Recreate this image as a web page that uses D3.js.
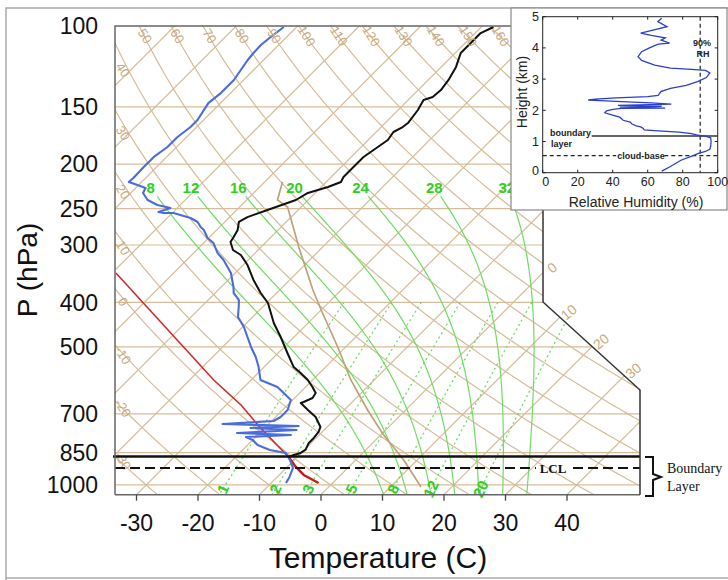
<!DOCTYPE html>
<html><head><meta charset="utf-8">
<script src="https://cdn.jsdelivr.net/npm/d3@7"></script>
<style>body{margin:0;background:#fff}svg{display:block}</style>
</head><body>
<svg id="c" width="728" height="580"></svg>
<script>
// ---------------- data ----------------
const pressureTicks = [100,150,200,250,300,400,500,700,850,1000];
const isobarLevels = [150,200,250,300,400,500,700,850,1000];
const temperatureTicks = [-30,-20,-10,0,10,20,30,40];
const isothermValues = [-140,-130,-120,-110,-100,-90,-80,-70,-60,-50,-40,-30,-20,-10,0,10,20,30,40];
const thetaValues = [-40,-30,-20,-10,0,10,20,30,40,50,60,70,80,90,100,110,120,130,140,150,160,170,180];
const thetaTopLabels = [50,60,70,80,90,100,110,120,130,140,150,160];
const thetaLeftLabels = [40,30,20,10,0,-10,-20,-30];
const isothermRightLabels = [0,10,20,30];
const moistThetaW = [8,12,16,20,24,28,32];
const mixingRatios = [1,2,3,5,8,12,20];

// temperature sounding (hPa, degC)
const tempP = [100.5,103.6,108.9,114.5,122.8,131.1,137.9,142.8,145,152.4,162.7,166,170.2,177.2,186.3,192.9,202.9,213.3,218.7,224.3,231.1,239.4,251.7,260.8,267.3,278.2,288.2,295.6,307.6,315.5,331.7,357.5,381.7,401.3,443.6,476,515.8,553.4,570.2,590.5,611.7,630.4,646.4,659.5,662.8,686.5,711.1,747.5,766.4,789.8,809.9,838.8,851.6,860.1,869];
const tempT = [-48.0,-49.1,-49.1,-49.1,-47.6,-46.7,-46.3,-46.5,-47.5,-46.8,-46.3,-46.5,-47.2,-46.8,-47.5,-48.0,-48.0,-48.0,-47.6,-48.9,-51.2,-52.0,-55.0,-57.1,-57.7,-56.6,-56.1,-55.8,-54.1,-52.0,-49.3,-45.9,-42.6,-39.8,-35.6,-32.2,-28.5,-25.2,-23.1,-20.8,-18.9,-17.4,-17.1,-17.9,-18.2,-15.9,-13.5,-11.1,-10.6,-10.4,-10.4,-9.8,-10.1,-10.9,-11.4];

// dewpoint sounding (hPa, degC)
const dewP = [100.5,105.7,110,114.5,118.6,124.7,131.1,140,147.2,160.3,166,174.5,183.5,192.9,202.9,214.4,218.7,222,225.4,231.1,239.4,245.5,249.2,254.2,255.5,255.5,262,267.3,274.1,278.2,289.6,297.1,312.4,323.5,345.2,370.4,381.7,395.4,409.5,430.5,452.7,476,500.4,526.2,553.4,590.5,611.7,630.4,652.9,686.5,711.1,725.5,736.5,743.9,751.4,759,770.3,778.1,786,798,818.2,838.8,851.6,882,918.2,960.7,990];
const dewT = [-82.1,-82.6,-82.9,-82.8,-82.6,-82.1,-81.6,-81.6,-82.0,-81.0,-81.0,-81.5,-81.5,-82.1,-82.1,-82.0,-82.1,-80.2,-78.4,-78.0,-76.1,-73.7,-71.1,-72.4,-71.4,-69.8,-66.2,-64.4,-63.1,-62.1,-60.2,-58.4,-56.1,-54.0,-50.7,-48.0,-47.0,-45.0,-43.9,-42.4,-39.8,-37.6,-35.4,-33.0,-30.9,-28.5,-24.6,-22.6,-20.3,-19.2,-19.2,-19.7,-27.5,-14.8,-22.3,-14.5,-23.7,-14.6,-21.6,-20.0,-18.4,-15.6,-12.5,-10.7,-8.9,-8.0,-7.6];

// red reference line (hPa, degC)
const refP = [345.2,590.5,669.4,751,869,913.6,951,990];
const refT = [-69.4,-36.1,-27.6,-20.7,-11.4,-8.6,-6.0,-2.3];

// tan parcel curve (hPa, degC)
const parcelP = [218.7,239.4,248,303,376,422,500.4,590.5,686.5,774.3,882,1010];
const parcelT = [-57.1,-55.0,-52.2,-43.9,-34.6,-29.3,-21.3,-13.8,-6.2,0.2,7.8,15.0];

const boundaryLayerP = 867;
const lclP = 918;

// inset: relative humidity profile
const rhHeight = [0.05,0.2,0.4,0.55,0.62,0.68,0.75,0.85,1.0,1.12,1.17,1.2,1.25,1.3,1.34,1.37,1.42,1.47,1.5,1.56,1.62,1.68,1.78,1.85,1.92,1.98,2.03,2.06,2.07,2.1,2.13,2.16,2.2,2.24,2.28,2.31,2.33,2.36,2.4,2.44,2.48,2.6,2.7,2.8,2.92,3.05,3.2,3.28,3.31,3.35,3.45,3.6,3.72,3.88,4.0,4.12,4.15,4.25,4.32,4.4,4.47,4.57,4.68,4.84,4.95];
const rhValue = [68,73,79,86,89,93,95.5,96,96.2,96,93,89,85,78,66,58,57.5,56,53.5,51,50,46,44,39.5,35.5,36.5,40,45,70,44,68,43,73.5,62,45,33,26,30,42,60,66,67.5,73,82,88.5,93.5,95.5,93,85,73,64,56.5,54.5,56.5,61,66,72.5,67.7,70,62,56,63,71,65.8,68];
const rhTicks = [0,20,40,60,80,100];
const heightTicks = [0,1,2,3,4,5];
const rhThreshold = 90;
const blHeight = 1.18;
const cloudBaseHeight = 0.55;

// ---------------- helpers ----------------
const svg = d3.select('#c');
const TAN = '#d6bd99', TANTXT = '#c9aa80', GREEN = '#6fdc62', GREENTXT = '#2fd020';
const yP = d3.scaleLog().domain([100,1050]).range([26,494.7]);
const xT = d3.scaleLinear().domain([-30,40]).range([136.5,567]);
const yBot = yP(1050);
const X = (T,p) => xT(T) + (yBot - yP(p));
const lineTP = d3.line().x(d=>X(d[1],d[0])).y(d=>yP(d[0]));
const K = 273.15;
const dryT = (th,p) => (th+K)*Math.pow(p/1000,0.2857) - K;
const es = T => 6.112*Math.exp(17.67*T/(T+243.5));
function moistDT(Tk,p){
  const Lv=2.501e6,Rd=287.04,cp=1005.7,eps=0.622;
  const e=es(Tk-K); const rs=eps*e/(p-e);
  return (Rd*Tk+Lv*rs)/(p*(cp+Lv*Lv*rs*eps/(Rd*Tk*Tk)));
}
function moistLine(tw,pTop,pBot){
  const up=[],down=[];
  let T=tw+K,p=1000;
  while(p>pTop){const h=-1;const k1=moistDT(T,p);const k2=moistDT(T+h*k1,p+h);T+=h*(k1+k2)/2;p+=h;up.push([p,T-K]);}
  T=tw+K;p=1000;
  while(p<pBot){const h=1;const k1=moistDT(T,p);const k2=moistDT(T+h*k1,p+h);T+=h*(k1+k2)/2;p+=h;down.push([p,T-K]);}
  return up.reverse().concat([[1000,tw]]).concat(down);
}
function mixT(w,p){const e=p*w/(622+w);const a=Math.log(e/6.112);return 243.5*a/(17.67-a);}

const defs = svg.append('defs');
const clipPts = [[115,26],[543,26],[543,302],[640,390],[640,yBot],[115,yBot]];
defs.append('clipPath').attr('id','pc').append('polygon').attr('points',clipPts.map(d=>d.join(',')).join(' '));

// outer frame
svg.append('path').attr('d','M6,580 V8 H728 M6,578 H728').attr('fill','none').attr('stroke','#aaa').attr('stroke-width',1.5);

const g = svg.append('g').attr('clip-path','url(#pc)');
g.selectAll('.iso').data(isobarLevels).join('line')
  .attr('x1',115).attr('x2',640).attr('y1',d=>yP(d)).attr('y2',d=>yP(d))
  .attr('stroke',TAN).attr('stroke-width',1.2);
g.selectAll('.it').data(isothermValues).join('path')
  .attr('d',T=>lineTP([[1050,T],[100,T]])).attr('fill','none').attr('stroke',TAN).attr('stroke-width',1.2);
const presGrid = d3.range(100,1051,10);
g.selectAll('.da').data(thetaValues).join('path')
  .attr('d',th=>lineTP(presGrid.map(p=>[p,dryT(th,p)]))).attr('fill','none').attr('stroke',TAN).attr('stroke-width',1.2);
g.selectAll('.ma').data(moistThetaW).join('path')
  .attr('d',tw=>lineTP(moistLine(tw,235,1050))).attr('fill','none').attr('stroke',GREEN).attr('stroke-width',1.2);
const mixGrid = d3.range(400,1051,10);
g.selectAll('.mr').data(mixingRatios).join('path')
  .attr('d',w=>lineTP(mixGrid.map(p=>[p,mixT(w,p)]))).attr('fill','none').attr('stroke',GREEN).attr('stroke-width',1.3).attr('stroke-dasharray','2,3');

g.append('path').attr('d',lineTP(parcelP.map((p,i)=>[p,parcelT[i]]))).attr('fill','none').attr('stroke','#c2a078').attr('stroke-width',1.7);
const refPts = refP.map((p,i)=>[p,refT[i]]);
g.append('path').attr('d',lineTP(refPts.filter(d=>d[0]<=869))).attr('fill','none').attr('stroke','#d42a2a').attr('stroke-width',1.6);
g.append('path').attr('d',lineTP(refPts.filter(d=>d[0]>=869))).attr('fill','none').attr('stroke','#c41c1c').attr('stroke-width',2.4);
g.append('path').attr('d',lineTP(dewP.map((p,i)=>[p,dewT[i]]))).attr('fill','none').attr('stroke','#4a6ddc').attr('stroke-width',2.1).attr('stroke-linejoin','round');
g.append('path').attr('d',lineTP(tempP.map((p,i)=>[p,tempT[i]]))).attr('fill','none').attr('stroke','#111').attr('stroke-width',2).attr('stroke-linejoin','round');

// grid labels
const lbl = svg.append('g').attr('font-family','Liberation Sans, Arial, sans-serif');
thetaTopLabels.forEach(th=>{
  const p=yP.invert(36); const x=X(dryT(th,p),p);
  lbl.append('text').attr('transform',`translate(${x+1},36) rotate(58)`).attr('text-anchor','middle').attr('dy','0.35em')
    .attr('font-size',13).attr('fill',TANTXT).text(th);
});
thetaLeftLabels.forEach(th=>{
  let lo=100,hi=1050;
  for(let i=0;i<50;i++){const m=(lo+hi)/2; if(X(dryT(th,m),m)<115) lo=m; else hi=m;}
  const yi=yP(lo);
  const y = yi + 4 + 0.055*(459-yi);
  lbl.append('text').attr('transform',`translate(123,${y}) rotate(58)`).attr('text-anchor','middle').attr('dy','0.35em')
    .attr('font-size',13).attr('fill',TANTXT).text(th);
});
isothermRightLabels.forEach(T=>{
  let x=543, y=yBot-(543-xT(T));
  if(y>302){const t=(xT(T)+yBot-845)/185; x=543+97*t; y=302+88*t;}
  lbl.append('text').attr('transform',`translate(${x+9},${y-5}) rotate(-40)`).attr('text-anchor','middle').attr('dy','0.35em')
    .attr('font-size',14).attr('fill',TANTXT).text(T);
});
moistThetaW.forEach(tw=>{
  const pts=moistLine(tw,225,1050); const d=pts[0];
  lbl.append('text').attr('x',X(d[1],d[0])).attr('y',193).attr('text-anchor','middle')
    .attr('font-size',15).attr('font-weight','bold').attr('fill',GREENTXT).text(tw);
});
mixingRatios.forEach(w=>{
  const p=1020; const x=X(mixT(w,p),p);
  lbl.append('text').attr('transform',`translate(${x},${yP(p)}) rotate(-65)`).attr('text-anchor','middle').attr('dy','0.35em')
    .attr('font-size',15).attr('font-weight','bold').attr('fill',GREENTXT).text(w);
});

// boundary layer & LCL lines
svg.append('line').attr('x1',113).attr('x2',640).attr('y1',yP(boundaryLayerP)).attr('y2',yP(boundaryLayerP)).attr('stroke','#111').attr('stroke-width',2.4);
svg.append('line').attr('x1',115).attr('x2',536).attr('y1',yP(lclP)).attr('y2',yP(lclP)).attr('stroke','#111').attr('stroke-width',2).attr('stroke-dasharray','10,5');
svg.append('line').attr('x1',573).attr('x2',640).attr('y1',yP(lclP)).attr('y2',yP(lclP)).attr('stroke','#111').attr('stroke-width',2).attr('stroke-dasharray','10,5');
svg.append('text').attr('x',553).attr('y',yP(lclP)+5).attr('text-anchor','middle').attr('font-family','Liberation Serif, Times New Roman, serif').attr('font-weight','bold').attr('font-size',13).attr('fill','#111').text('LCL');

// frame
svg.append('path').attr('d',`M115,${yBot} V26 H543`).attr('fill','none').attr('stroke','#666').attr('stroke-width',1.5);
svg.append('path').attr('d',`M115,${yBot} H640`).attr('fill','none').attr('stroke','#666').attr('stroke-width',1.5);
svg.append('path').attr('d',`M543,26 V302 L640,390 V${yBot}`).attr('fill','none').attr('stroke','#333').attr('stroke-width',1.5);
svg.selectAll('.bt').data(temperatureTicks).join('line').attr('x1',d=>xT(d)).attr('x2',d=>xT(d)).attr('y1',yBot).attr('y2',yBot+6).attr('stroke','#444').attr('stroke-width',1.3);

// axis labels
const ax = svg.append('g').attr('font-family','Liberation Sans, Arial, Helvetica, sans-serif').attr('fill','#111');
ax.selectAll('.pt').data(pressureTicks).join('text').attr('x',98).attr('y',d=>yP(d)).attr('dy','0.36em').attr('text-anchor','end').attr('font-size',23).text(d=>d);
ax.selectAll('.tt').data(temperatureTicks).join('text').attr('x',d=>xT(d)).attr('y',531).attr('text-anchor','middle').attr('font-size',23).text(d=>d);
ax.append('text').attr('transform','translate(37,270) rotate(-90)').attr('text-anchor','middle').attr('font-size',28).text('P (hPa)');
ax.append('text').attr('x',378).attr('y',568).attr('text-anchor','middle').attr('font-size',30).text('Temperature (C)');

// bracket
svg.append('path').attr('d','M645,457 H653 V474 L661,477 L653,480 V496 H645').attr('fill','none').attr('stroke','#111').attr('stroke-width',2);
const serif = svg.append('g').attr('font-family','Liberation Serif, Times New Roman, serif').attr('font-size',14).attr('fill','#111');
serif.append('text').attr('x',667).attr('y',473).text('Boundary');
serif.append('text').attr('x',667).attr('y',491).text('Layer');

// ---------------- inset ----------------
const ins = svg.append('g');
ins.append('rect').attr('x',511).attr('y',8).attr('width',216).attr('height',202).attr('fill','#fff').attr('stroke','#888').attr('stroke-width',1.2);
const ix = d3.scaleLinear().domain([0,100]).range([542.7,717.7]);
const iy = d3.scaleLinear().domain([0,5]).range([172.7,16.7]);
ins.append('rect').attr('x',ix(0)).attr('y',iy(5)).attr('width',ix(100)-ix(0)).attr('height',iy(0)-iy(5)).attr('fill','none').attr('stroke','#222').attr('stroke-width',1);
rhTicks.forEach(v=>{
  ins.append('line').attr('x1',ix(v)).attr('x2',ix(v)).attr('y1',iy(0)).attr('y2',iy(0)-3).attr('stroke','#222');
  ins.append('line').attr('x1',ix(v)).attr('x2',ix(v)).attr('y1',iy(5)).attr('y2',iy(5)+3).attr('stroke','#222');
});
heightTicks.forEach(v=>{
  ins.append('line').attr('x1',ix(0)).attr('x2',ix(0)+3).attr('y1',iy(v)).attr('y2',iy(v)).attr('stroke','#222');
  ins.append('line').attr('x1',ix(100)).attr('x2',ix(100)-3).attr('y1',iy(v)).attr('y2',iy(v)).attr('stroke','#222');
});
const it = ins.append('g').attr('font-family','Liberation Sans, Arial, Helvetica, sans-serif').attr('fill','#222');
it.selectAll('.xt').data(rhTicks).join('text').attr('x',d=>ix(d)+(d===0?3:0)).attr('y',186).attr('text-anchor','middle').attr('font-size',12.5).text(d=>d);
it.selectAll('.yt').data(heightTicks).join('text').attr('x',539).attr('y',d=>iy(d)-(d===0?2:0)).attr('dy','0.36em').attr('text-anchor','end').attr('font-size',12.5).text(d=>d);
it.append('text').attr('transform','translate(527,92) rotate(-90)').attr('text-anchor','middle').attr('font-size',14).text('Height (km)');
it.append('text').attr('x',636).attr('y',207).attr('text-anchor','middle').attr('font-size',14).text('Relative Humidity (%)');
ins.append('line').attr('x1',ix(rhThreshold)).attr('x2',ix(rhThreshold)).attr('y1',iy(5)).attr('y2',iy(0)).attr('stroke','#222').attr('stroke-width',1.2).attr('stroke-dasharray','4,3');
ins.append('line').attr('x1',ix(28)).attr('x2',ix(100)).attr('y1',iy(blHeight)).attr('y2',iy(blHeight)).attr('stroke','#333').attr('stroke-width',1.5);
ins.append('line').attr('x1',ix(0)).attr('x2',ix(42)).attr('y1',iy(cloudBaseHeight)).attr('y2',iy(cloudBaseHeight)).attr('stroke','#222').attr('stroke-width',1.2).attr('stroke-dasharray','4,3');
ins.append('line').attr('x1',ix(69.5)).attr('x2',ix(100)).attr('y1',iy(cloudBaseHeight)).attr('y2',iy(cloudBaseHeight)).attr('stroke','#222').attr('stroke-width',1.2).attr('stroke-dasharray','4,3');
ins.append('path').attr('d',d3.line().x(d=>ix(d[1])).y(d=>iy(d[0]))(rhHeight.map((h,i)=>[h,rhValue[i]]))).attr('fill','none').attr('stroke','#2a3fcc').attr('stroke-width',1.3);
const ib = ins.append('g').attr('font-family','Liberation Sans, Arial, sans-serif').attr('font-weight','bold').attr('font-size',9).attr('fill','#222');
ib.append('text').attr('x',702).attr('y',46).attr('text-anchor','middle').text('90%');
ib.append('text').attr('x',703).attr('y',57).attr('text-anchor','middle').text('RH');
ib.append('text').attr('x',550).attr('y',135.5).text('boundary');
ib.append('text').attr('x',551).attr('y',147).text('layer');
ib.append('text').attr('x',641).attr('y',159).attr('text-anchor','middle').text('cloud-base');
</script>
</body></html>
